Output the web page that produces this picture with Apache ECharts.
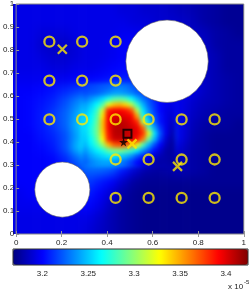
<!DOCTYPE html>
<html><head><meta charset="utf-8">
<script src="https://cdn.jsdelivr.net/npm/echarts@6/dist/echarts.min.js"></script>
<style>
html,body{margin:0;padding:0;background:#fff}
#root{position:relative;width:249px;height:292px;overflow:hidden}
#bgwrap{position:absolute;left:13px;top:4px;width:231px;height:230px;overflow:hidden}
.layer{position:absolute;left:-12px;top:-12px;width:255px;height:254px}
#bg1{filter:blur(4px)}
#bg2{filter:blur(2px)}
#c{position:absolute;left:0;top:0;width:249px;height:292px}
</style>
</head><body><div id="root"><div id="bgwrap"><div id="bg1" class="layer"></div><div id="bg2" class="layer"></div></div><div id="c"></div></div>
<script>
// ---- data (values in units of 1e-5) ----
const cbMin = 3.168, cbMax = 3.424;
const cbTicks = [3.2, 3.25, 3.3, 3.35, 3.4];
// coarse field: 20x20 cells over [0,1]x[0,1], rows from top (y≈0.975) down
const coarseRows = [
[3.194,3.194,3.194,3.194,3.194,3.194,3.194,3.194,3.194,3.191,3.191,3.188,3.188,3.186,3.183,3.181,3.178,3.176,3.173,3.173],
[3.194,3.194,3.194,3.194,3.194,3.194,3.194,3.194,3.194,3.194,3.191,3.191,3.188,3.188,3.186,3.183,3.178,3.176,3.173,3.173],
[3.194,3.194,3.191,3.191,3.191,3.194,3.194,3.194,3.194,3.196,3.196,3.194,3.191,3.191,3.188,3.186,3.183,3.178,3.176,3.173],
[3.194,3.194,3.188,3.186,3.186,3.191,3.194,3.194,3.196,3.199,3.199,3.196,3.194,3.194,3.191,3.188,3.186,3.178,3.176,3.176],
[3.194,3.194,3.191,3.188,3.188,3.191,3.194,3.194,3.196,3.199,3.199,3.196,3.194,3.194,3.191,3.188,3.186,3.181,3.176,3.176],
[3.194,3.194,3.194,3.191,3.191,3.194,3.194,3.196,3.199,3.201,3.201,3.199,3.196,3.194,3.191,3.188,3.186,3.181,3.176,3.176],
[3.196,3.196,3.196,3.196,3.196,3.199,3.199,3.201,3.204,3.206,3.206,3.204,3.199,3.196,3.194,3.191,3.186,3.181,3.178,3.176],
[3.199,3.199,3.201,3.204,3.209,3.214,3.219,3.224,3.232,3.232,3.224,3.219,3.209,3.201,3.196,3.194,3.186,3.181,3.178,3.176],
[3.199,3.201,3.204,3.209,3.219,3.232,3.245,3.265,3.309,3.322,3.290,3.245,3.219,3.204,3.194,3.188,3.183,3.181,3.178,3.176],
[3.199,3.201,3.206,3.214,3.224,3.240,3.262,3.322,3.393,3.398,3.386,3.265,3.222,3.204,3.194,3.186,3.181,3.178,3.176,3.176],
[3.199,3.201,3.206,3.214,3.224,3.245,3.267,3.334,3.398,3.404,3.398,3.347,3.250,3.214,3.194,3.183,3.178,3.176,3.176,3.173],
[3.199,3.199,3.204,3.209,3.219,3.240,3.262,3.309,3.393,3.406,3.404,3.386,3.290,3.219,3.194,3.181,3.176,3.173,3.173,3.173],
[3.199,3.199,3.201,3.206,3.219,3.245,3.265,3.290,3.340,3.360,3.334,3.275,3.240,3.206,3.188,3.178,3.176,3.173,3.173,3.173],
[3.199,3.199,3.199,3.201,3.209,3.224,3.240,3.245,3.250,3.245,3.219,3.199,3.186,3.181,3.181,3.178,3.176,3.173,3.173,3.173],
[3.199,3.199,3.199,3.201,3.204,3.214,3.224,3.224,3.219,3.204,3.188,3.178,3.176,3.178,3.181,3.178,3.176,3.173,3.173,3.173],
[3.199,3.199,3.199,3.199,3.201,3.206,3.214,3.206,3.199,3.186,3.176,3.173,3.173,3.173,3.173,3.173,3.173,3.173,3.173,3.173],
[3.196,3.199,3.199,3.199,3.199,3.201,3.206,3.199,3.188,3.178,3.173,3.171,3.171,3.171,3.171,3.171,3.171,3.171,3.171,3.171],
[3.196,3.196,3.196,3.196,3.196,3.199,3.201,3.194,3.183,3.176,3.173,3.171,3.171,3.171,3.171,3.171,3.171,3.171,3.171,3.171],
[3.194,3.194,3.194,3.194,3.194,3.194,3.194,3.188,3.181,3.176,3.173,3.171,3.171,3.171,3.171,3.171,3.171,3.171,3.171,3.171],
[3.194,3.194,3.194,3.194,3.194,3.194,3.191,3.186,3.181,3.176,3.173,3.171,3.171,3.171,3.171,3.171,3.171,3.171,3.171,3.171]
];
// fine field around the peak: 16x14 cells over x∈[0.30,0.70], y∈[0.30,0.65], rows from top down
const fineX0 = 0.30, fineY1 = 0.65;
const fineRows = [
[3.214,3.217,3.219,3.222,3.224,3.229,3.232,3.229,3.224,3.219,3.214,3.209,3.204,3.199,3.196,3.194],
[3.219,3.222,3.224,3.229,3.235,3.240,3.240,3.237,3.232,3.224,3.219,3.214,3.209,3.204,3.199,3.196],
[3.229,3.237,3.245,3.255,3.270,3.283,3.286,3.281,3.265,3.245,3.229,3.219,3.209,3.201,3.196,3.194],
[3.240,3.250,3.263,3.283,3.322,3.342,3.347,3.337,3.311,3.276,3.245,3.224,3.212,3.201,3.196,3.194],
[3.245,3.258,3.276,3.317,3.386,3.393,3.393,3.388,3.373,3.309,3.258,3.232,3.214,3.201,3.194,3.191],
[3.250,3.263,3.283,3.334,3.393,3.401,3.401,3.398,3.393,3.352,3.270,3.240,3.219,3.204,3.194,3.188],
[3.253,3.265,3.288,3.342,3.393,3.406,3.409,3.406,3.398,3.383,3.309,3.253,3.224,3.204,3.194,3.186],
[3.255,3.270,3.291,3.342,3.393,3.409,3.411,3.409,3.404,3.396,3.368,3.283,3.240,3.212,3.194,3.183],
[3.253,3.270,3.291,3.337,3.388,3.409,3.411,3.409,3.404,3.398,3.380,3.322,3.258,3.219,3.194,3.181],
[3.250,3.265,3.286,3.327,3.383,3.404,3.406,3.404,3.401,3.388,3.360,3.291,3.245,3.212,3.188,3.178],
[3.245,3.260,3.276,3.301,3.347,3.368,3.373,3.368,3.357,3.327,3.283,3.245,3.219,3.199,3.183,3.176],
[3.237,3.250,3.260,3.270,3.286,3.296,3.296,3.288,3.276,3.258,3.237,3.219,3.201,3.188,3.178,3.176],
[3.229,3.240,3.247,3.253,3.258,3.258,3.253,3.245,3.235,3.219,3.206,3.194,3.186,3.181,3.178,3.176],
[3.224,3.232,3.237,3.240,3.240,3.237,3.232,3.224,3.214,3.201,3.191,3.183,3.178,3.178,3.178,3.176]
];
const sensors = [
  [0.146,0.836],[0.290,0.836],[0.437,0.836],
  [0.146,0.667],[0.290,0.667],[0.437,0.667],
  [0.146,0.498],[0.290,0.498],[0.437,0.498],[0.582,0.498],[0.727,0.498],[0.872,0.498],
  [0.437,0.324],[0.582,0.324],[0.727,0.324],[0.872,0.324],
  [0.437,0.157],[0.582,0.157],[0.727,0.157],[0.872,0.157]
];
const crosses = [[0.203,0.803],[0.509,0.392],[0.709,0.294]];
const squarePts = [[0.489,0.436]];
const starPts = [[0.472,0.400]];
const obstacles = [[0.663,0.751,0.181],[0.203,0.193,0.121]]; // x, y, radius
const jet = ['#000080','#0000ff','#0080ff','#00ffff','#80ff80','#ffff00','#ff8000','#ff0000','#800000'];

// ---- build ----
const PAD = 12;
function cellsFrom(rows, x0, y1, cw, ch) {
  const out = [];
  rows.forEach((row, r) => row.forEach((v, c) => {
    out.push([x0 + (c + 0.5) * cw, y1 - (r + 0.5) * ch, v, r, c]);
  }));
  return out;
}
function makeLayer(id, rows, x0, y1, cw, ch, extend) {
  const nR = rows.length, nC = rows[0].length;
  const ch_ = echarts.init(document.getElementById(id), null, {renderer: 'canvas'});
  ch_.setOption({
    animation: false,
    grid: {left: PAD, top: PAD, width: 231, height: 230},
    xAxis: {type: 'value', min: 0, max: 1, show: false},
    yAxis: {type: 'value', min: 0, max: 1, show: false},
    visualMap: {type: 'continuous', show: false, seriesIndex: 0, dimension: 2, min: cbMin, max: cbMax, inRange: {color: jet}},
    series: [{
      type: 'custom', silent: true, clip: false, encode: {x: 0, y: 1},
      data: cellsFrom(rows, x0, y1, cw, ch),
      renderItem: function (params, api) {
        const x = api.value(0), y = api.value(1), r = api.value(3), c = api.value(4);
        const p0 = api.coord([x - cw / 2, y + ch / 2]);
        const p1 = api.coord([x + cw / 2, y - ch / 2]);
        let xa = p0[0], ya = p0[1], xb = p1[0] + 0.6, yb = p1[1] + 0.6;
        if (extend) {
          if (c === 0) xa -= PAD;
          if (c === nC - 1) xb += PAD;
          if (r === 0) ya -= PAD;
          if (r === nR - 1) yb += PAD;
        }
        return {type: 'rect', shape: {x: xa, y: ya, width: xb - xa, height: yb - ya}, style: {fill: api.visual('color')}};
      }
    }]
  });
}
makeLayer('bg1', coarseRows, 0, 1, 1 / coarseRows[0].length, 1 / coarseRows.length, true);
makeLayer('bg2', fineRows, fineX0, fineY1, 0.025, 0.025, false);

const font = 'Liberation Sans, Arial, sans-serif';
const lbl = {fontSize: 8, color: '#222', fontFamily: font};
const tickGray = {color: '#999', width: 1};
const yellow = '#ffea00';

const chart = echarts.init(document.getElementById('c'), null, {renderer: 'canvas'});
chart.setOption({
  animation: false,
  backgroundColor: 'transparent',
  grid: [
    {left: 13, top: 4, width: 231, height: 230, show: true, borderColor: '#8a8a8a', borderWidth: 1, z: 5, backgroundColor: 'transparent'},
    {left: 13, top: 249, width: 235, height: 16, show: true, borderColor: '#333', borderWidth: 1, z: 6, backgroundColor: 'transparent'}
  ],
  xAxis: [
    {gridIndex: 0, type: 'value', min: 0, max: 1, interval: 0.2, position: 'bottom',
     axisLine: {show: false}, axisTick: {show: true, length: 3, lineStyle: tickGray},
     axisLabel: Object.assign({margin: 5}, lbl), splitLine: {show: false}},
    {gridIndex: 0, type: 'value', min: 0, max: 1, interval: 0.2, position: 'top',
     axisLine: {show: false}, axisTick: {show: true, length: 3, lineStyle: tickGray},
     axisLabel: {show: false}, splitLine: {show: false}},
    {gridIndex: 1, type: 'value', min: cbMin, max: cbMax, position: 'bottom',
     axisLine: {show: false},
     axisTick: {show: true, inside: true, length: 3, customValues: cbTicks, lineStyle: {color: '#333'}},
     axisLabel: Object.assign({margin: 5, customValues: cbTicks}, lbl), splitLine: {show: false}},
    {gridIndex: 1, type: 'value', min: cbMin, max: cbMax, position: 'top',
     axisLine: {show: false},
     axisTick: {show: true, inside: true, length: 3, customValues: cbTicks, lineStyle: {color: '#333'}},
     axisLabel: {show: false}, splitLine: {show: false}}
  ],
  yAxis: [
    {gridIndex: 0, type: 'value', min: 0, max: 1, interval: 0.1, position: 'left',
     axisLine: {show: false}, axisTick: {show: false},
     axisLabel: Object.assign({margin: 2}, lbl), splitLine: {show: false}},
    {gridIndex: 0, type: 'value', min: 0, max: 1, interval: 0.1, position: 'right',
     axisLine: {show: false}, axisTick: {show: true, length: 3, lineStyle: tickGray},
     axisLabel: {show: false}, splitLine: {show: false}},
    {gridIndex: 1, type: 'value', min: 0, max: 1, show: false}
  ],
  visualMap: {
    type: 'continuous', seriesIndex: [], dimension: 2, min: cbMin, max: cbMax,
    orient: 'horizontal', left: 13, top: 249, itemWidth: 16, itemHeight: 235,
    calculable: false, padding: 0, text: null, hoverLink: false, z: 1,
    inRange: {color: jet}
  },
  series: [
    {type: 'custom', xAxisIndex: 0, yAxisIndex: 0, z: 3, silent: true,
     encode: {x: 0, y: 1},
     data: obstacles,
     renderItem: function (params, api) {
       const c = api.coord([api.value(0), api.value(1)]);
       const r = api.size([api.value(2), 0])[0];
       return {type: 'circle', shape: {cx: c[0], cy: c[1], r: r}, style: {fill: '#fff', stroke: '#666', lineWidth: 0.6}};
     }},
    {type: 'scatter', xAxisIndex: 0, yAxisIndex: 0, z: 4, data: sensors, symbol: 'circle', symbolSize: 10,
     itemStyle: {color: 'transparent', borderColor: yellow, borderWidth: 2.3}},
    {type: 'scatter', xAxisIndex: 0, yAxisIndex: 0, z: 4, data: crosses, symbol: 'path://M0,0L10,10M10,0L0,10', symbolSize: 9,
     itemStyle: {color: 'transparent', borderColor: yellow, borderWidth: 2.3}},
    {type: 'scatter', xAxisIndex: 0, yAxisIndex: 0, z: 5, data: starPts,
     symbol: 'path://M50,0L61,35L98,35L68,57L79,91L50,70L21,91L32,57L2,35L39,35Z', symbolSize: 9,
     itemStyle: {color: '#000'}},
    {type: 'scatter', xAxisIndex: 0, yAxisIndex: 0, z: 5, data: squarePts, symbol: 'rect', symbolSize: 8,
     itemStyle: {color: 'transparent', borderColor: '#000', borderWidth: 2}}
  ],
  graphic: [
    {type: 'text', left: 228, top: 283, style: {text: 'x 10', fontSize: 8, fill: '#222', fontFamily: font}, z: 10},
    {type: 'text', left: 244, top: 279, style: {text: '-5', fontSize: 6, fill: '#222', fontFamily: font}, z: 10}
  ]
});
</script></body></html>
